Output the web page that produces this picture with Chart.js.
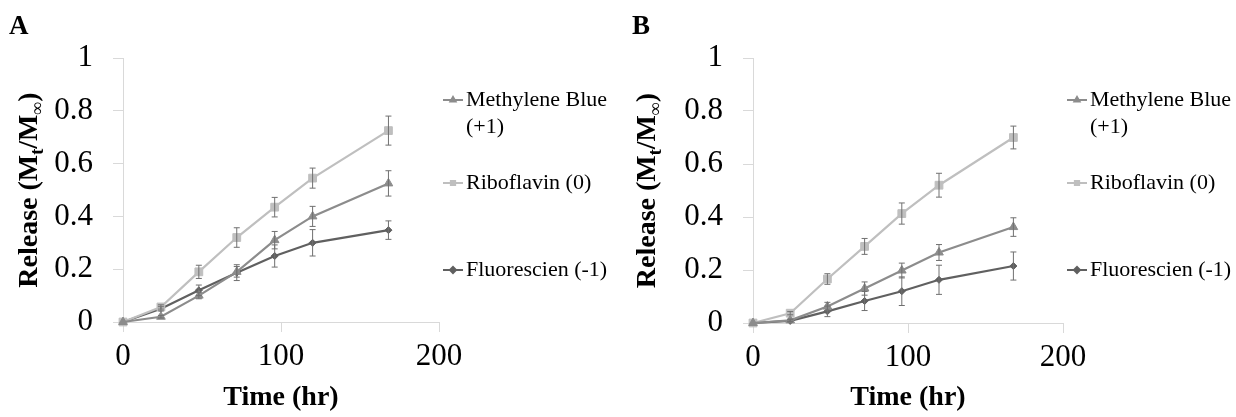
<!DOCTYPE html>
<html>
<head>
<meta charset="utf-8">
<script src="https://cdn.jsdelivr.net/npm/chart.js@4.4.0/dist/chart.umd.min.js"></script>
<style>
html, body { margin: 0; padding: 0; background: #fff; }
#wrap { position: relative; width: 1236px; height: 417px; }
.panel { position: absolute; top: 0; width: 618px; height: 417px; }
</style>
</head>
<body>
<div id="wrap">
  <div class="panel" style="left:0"><canvas id="chartA" width="618" height="417"></canvas></div>
  <div class="panel" style="left:618px"><canvas id="chartB" width="618" height="417"></canvas></div>
</div>
<script>
// sampling times (hr)
const hours = [0, 24, 48, 72, 96, 120, 168];
const seriesNames = ["Methylene Blue (+1)", "Riboflavin (0)", "Fluorescien (-1)"];
const xTicks = [0, 100, 200];
const yTicks = [0, 0.2, 0.4, 0.6, 0.8, 1];

// panel A
const mbA = [0, 0.02, 0.10, 0.19, 0.31, 0.40, 0.525];
const mbAErr = [0, 0.005, 0.012, 0.02, 0.033, 0.038, 0.048];
const riboA = [0, 0.057, 0.19, 0.32, 0.435, 0.545, 0.725];
const riboAErr = [0, 0.008, 0.025, 0.037, 0.037, 0.038, 0.055];
const fluoA = [0, 0.05, 0.12, 0.187, 0.25, 0.30, 0.348];
const fluoAErr = [0, 0.008, 0.02, 0.03, 0.042, 0.05, 0.035];

// panel B
const mbB = [0, 0.01, 0.062, 0.13, 0.198, 0.266, 0.362];
const mbBErr = [0, 0.005, 0.016, 0.025, 0.028, 0.03, 0.035];
const riboB = [0, 0.037, 0.166, 0.289, 0.413, 0.52, 0.70];
const riboBErr = [0, 0.006, 0.02, 0.03, 0.04, 0.045, 0.043];
const fluoB = [0, 0.008, 0.044, 0.083, 0.12, 0.163, 0.215];
const fluoBErr = [0, 0.004, 0.02, 0.036, 0.054, 0.055, 0.053];

const serif = '"Liberation Serif", "Times New Roman", serif';
const colors = ['#8c8c8c', '#bfbfbf', '#606060'];
const styles = ['triangle', 'rect', 'rectRot'];
const radii = [5, 5.5, 3.5];

// error bars drawn through the y scale
const errorBars = {
    id: 'errorBars',
    afterDatasetsDraw(chart) {
        const ctx = chart.ctx;
        const yScale = chart.scales.y;
        chart.data.datasets.forEach((ds, i) => {
            const meta = chart.getDatasetMeta(i);
            ctx.save();
            ctx.strokeStyle = '#707070';
            ctx.lineWidth = 1;
            meta.data.forEach((pt, j) => {
                const e = ds.errors[j];
                if (!e) return;
                const v = ds.data[j].y;
                const top = yScale.getPixelForValue(v + e);
                const bot = yScale.getPixelForValue(v - e);
                ctx.beginPath();
                ctx.moveTo(pt.x, top); ctx.lineTo(pt.x, bot);
                ctx.moveTo(pt.x - 3, top); ctx.lineTo(pt.x + 3, top);
                ctx.moveTo(pt.x - 3, bot); ctx.lineTo(pt.x + 3, bot);
                ctx.stroke();
            });
            ctx.restore();
        });
    }
};

// y title with subscripts, panel letter and legend on the right
const decorations = {
    id: 'decorations',
    afterDraw(chart) {
        const ctx = chart.ctx;
        const o = chart.options.plugins.decorations;
        const area = chart.chartArea;

        // panel letter
        ctx.save();
        ctx.fillStyle = '#000';
        ctx.font = 'bold 27px ' + serif;
        ctx.textBaseline = 'middle';
        ctx.fillText(o.letter, o.letterX, 27);
        ctx.restore();

        // y axis title
        const parts = [
            { t: 'Release (M', size: 28, dy: 0 },
            { t: 't', size: 18, dy: 6 },
            { t: '/M', size: 28, dy: 0 },
            { t: '\u221E', size: 18, dy: 6 },
            { t: ')', size: 28, dy: 0 }
        ];
        ctx.save();
        ctx.translate(28, (area.top + area.bottom) / 2);
        ctx.rotate(-Math.PI / 2);
        ctx.fillStyle = '#000';
        ctx.textBaseline = 'alphabetic';
        let total = 0;
        parts.forEach(p => {
            ctx.font = 'bold ' + p.size + 'px ' + serif;
            p.w = ctx.measureText(p.t).width;
            total += p.w;
        });
        let x = -total / 2;
        parts.forEach(p => {
            ctx.font = 'bold ' + p.size + 'px ' + serif;
            ctx.fillText(p.t, x, 9 + p.dy);
            x += p.w;
        });
        ctx.restore();

        // legend
        ctx.save();
        ctx.font = '22px ' + serif;
        ctx.textBaseline = 'middle';
        const maxW = chart.width - (o.legendX + 23) - 2;
        chart.data.datasets.forEach((ds, i) => {
            const y = o.rows[i];
            ctx.strokeStyle = ds.borderColor;
            ctx.fillStyle = ds.borderColor;
            ctx.lineWidth = 2;
            ctx.beginPath();
            ctx.moveTo(o.legendX, y);
            ctx.lineTo(o.legendX + 20, y);
            ctx.stroke();
            Chart.helpers.drawPoint(ctx, { pointStyle: ds.pointStyle, radius: 3, rotation: 0, borderWidth: 1 }, o.legendX + 10, y);

            // simple word wrap
            const words = ds.label.split(' ');
            const lines = [];
            let cur = '';
            words.forEach(w => {
                const test = cur ? cur + ' ' + w : w;
                if (ctx.measureText(test).width > maxW && cur) {
                    lines.push(cur);
                    cur = w;
                } else {
                    cur = test;
                }
            });
            lines.push(cur);
            ctx.fillStyle = '#000';
            lines.forEach((line, k) => ctx.fillText(line, o.legendX + 23, y + k * 27));
        });
        ctx.restore();
    }
};

function makeChart(id, letter, values, errors, layout) {
    let ctx = document.getElementById(id).getContext('2d');
    const datasets = values.map((vals, i) => ({
        label: seriesNames[i],
        data: hours.map((h, j) => ({ x: h, y: vals[j] })),
        errors: errors[i],
        borderColor: colors[i],
        backgroundColor: colors[i],
        pointBackgroundColor: colors[i],
        pointBorderColor: colors[i],
        pointStyle: styles[i],
        pointRadius: radii[i],
        pointBorderWidth: 1,
        borderWidth: 2.2,
        tension: 0,
        clip: false
    }));

    return new Chart(ctx, {
        type: 'line',
        data: { datasets: datasets },
        options: {
            responsive: false,
            animation: false,
            layout: { padding: { left: 0, top: 58, right: layout.right, bottom: 0 } },
            scales: {
                x: {
                    type: 'linear',
                    min: 0,
                    max: 200,
                    afterBuildTicks: s => { s.ticks = xTicks.map(v => ({ value: v })); },
                    afterFit: s => { s.height = layout.xHeight; },
                    ticks: {
                        font: { family: serif, size: 31 }, color: '#000', padding: 6, maxRotation: 0,
                        callback: v => String(v)
                    },
                    grid: { drawOnChartArea: false, drawTicks: true, tickLength: 10, color: '#d9d9d9' },
                    border: { color: '#d9d9d9', width: 1 },
                    title: {
                        display: true,
                        text: 'Time (hr)',
                        color: '#000',
                        font: { family: serif, size: 28, weight: 'bold' },
                        padding: { top: 0, bottom: 2 }
                    }
                },
                y: {
                    min: 0,
                    max: 1,
                    afterBuildTicks: s => { s.ticks = yTicks.map(v => ({ value: v })); },
                    afterFit: s => { s.width = layout.yWidth; },
                    ticks: {
                        font: { family: serif, size: 31 }, color: '#000', padding: 20,
                        callback: v => String(v)
                    },
                    grid: { drawOnChartArea: false, drawTicks: true, tickLength: 10, color: '#d9d9d9' },
                    border: { color: '#d9d9d9', width: 1 }
                }
            },
            plugins: {
                legend: { display: false },
                tooltip: { enabled: false },
                decorations: { letter: letter, letterX: layout.letterX, legendX: layout.legendX, rows: [100, 183, 270] }
            }
        },
        plugins: [errorBars, decorations]
    });
}

makeChart('chartA', 'A', [mbA, riboA, fluoA], [mbAErr, riboAErr, fluoAErr],
    { right: 179, xHeight: 95, yWidth: 123, letterX: 9, legendX: 443 });
makeChart('chartB', 'B', [mbB, riboB, fluoB], [mbBErr, riboBErr, fluoBErr],
    { right: 173, xHeight: 94, yWidth: 135, letterX: 14, legendX: 449 });
</script>
</body>
</html>
